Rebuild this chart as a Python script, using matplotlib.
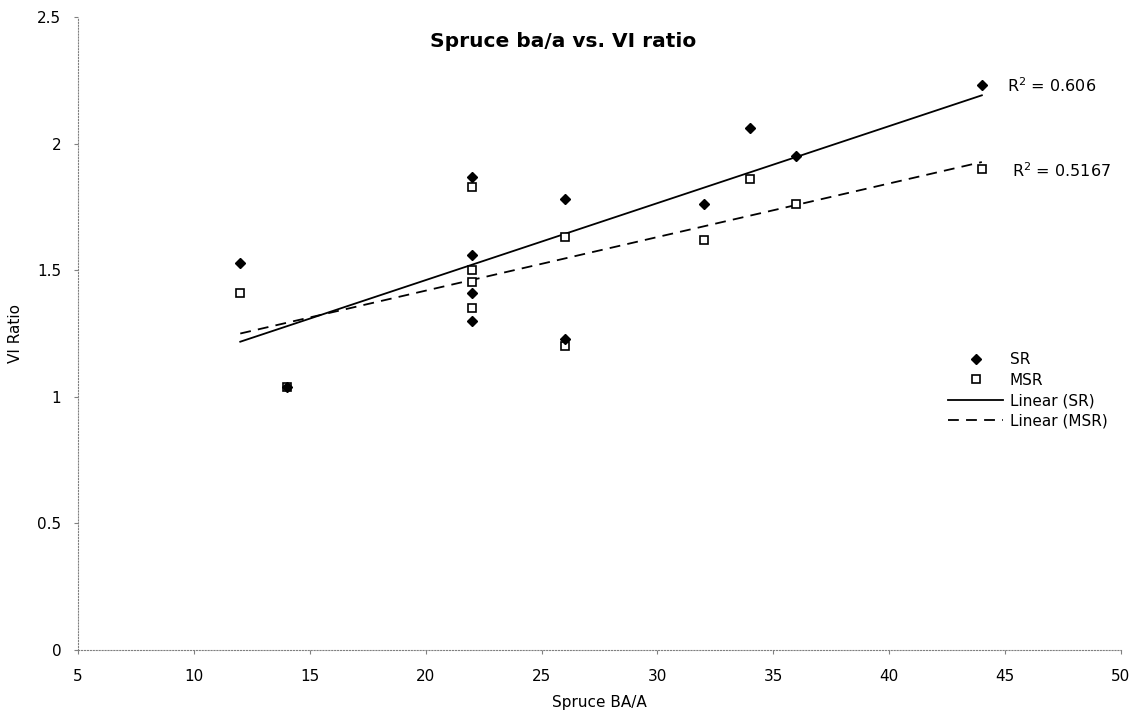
import numpy as np
import matplotlib.pyplot as plt

# Spruce basal area per acre and vegetation index ratios
ba = [12, 14, 22, 22, 22, 22, 26, 26, 32, 34, 36, 44]
sr = [1.53, 1.04, 1.87, 1.56, 1.41, 1.30, 1.78, 1.23, 1.76, 2.06, 1.95, 2.23]
msr = [1.41, 1.04, 1.83, 1.50, 1.455, 1.35, 1.63, 1.20, 1.62, 1.86, 1.76, 1.90]
r2_labels = ['R$^2$ = 0.606', 'R$^2$ = 0.5167']

x = np.array(ba, dtype=float)
xfit = np.array([x.min(), x.max()])
sr_fit = np.polyval(np.polyfit(x, sr, 1), xfit)
msr_fit = np.polyval(np.polyfit(x, msr, 1), xfit)

plt.rcParams['font.family'] = ['DejaVu Sans']
fig = plt.figure(figsize=(11.36, 7.17), dpi=100)
ax = fig.add_axes([0.0687, 0.0934, 0.918, 0.8829])

ax.plot(x, sr, 'D', color='black', ms=5, label='SR', zorder=4)
ax.plot(x, msr, 's', mfc='white', mec='black', mew=1.2, ms=6, label='MSR', zorder=3)
ax.plot(xfit, sr_fit, '-', color='black', lw=1.3, label='Linear (SR)')
ax.plot(xfit, msr_fit, '--', color='black', lw=1.3, dashes=(6, 4), label='Linear (MSR)')

ax.text(x.max() + 1.1, sr_fit[1] + 0.04, r2_labels[0], fontsize=11.5, va='center')
ax.text(x.max() + 1.3, msr_fit[1] - 0.035, r2_labels[1], fontsize=11.5, va='center')

ax.set_xlim(5, 50)
ax.set_ylim(0, 2.5)
ax.set_xticks(range(5, 51, 5))
ax.set_yticks([0, 0.5, 1, 1.5, 2, 2.5])
ax.set_yticklabels(['0', '0.5', '1', '1.5', '2', '2.5'])
ax.tick_params(labelsize=11, length=3, color='gray', width=0.8)
ax.tick_params(axis='x', pad=10.5)
ax.tick_params(axis='y', pad=9)

for side in ['top', 'right']:
    ax.spines[side].set_visible(False)
for side in ['left', 'bottom']:
    ax.spines[side].set_linestyle(':')
    ax.spines[side].set_color('gray')

ax.text(0.465, 0.962, 'Spruce ba/a vs. VI ratio', transform=ax.transAxes,
        fontsize=14.5, fontweight='bold', ha='center', va='center')
ax.set_xlabel('Spruce BA/A', fontsize=11, labelpad=8)
ax.set_ylabel('VI Ratio', fontsize=11, labelpad=10)

ax.legend(loc='center left', bbox_to_anchor=(0.8215, 0.41), frameon=False, fontsize=11,
          handlelength=3.6, handletextpad=0.4, labelspacing=0.35)

fig.savefig('out.png', dpi=100)
